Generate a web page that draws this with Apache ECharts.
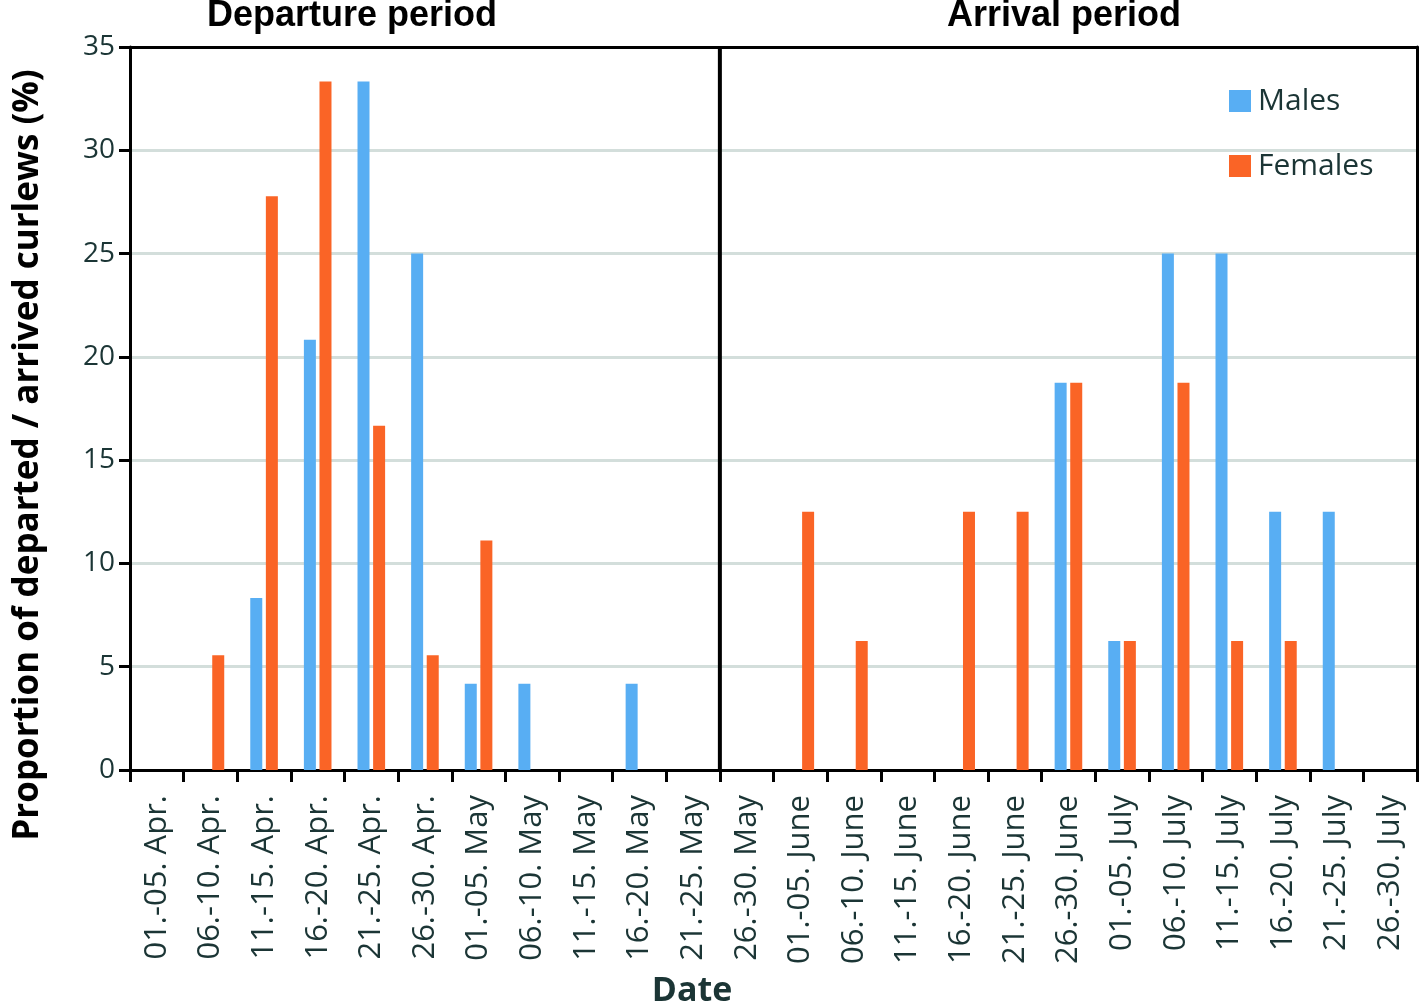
<!DOCTYPE html>
<html>
<head>
<meta charset="utf-8">
<script src="https://cdn.jsdelivr.net/npm/echarts@6/dist/echarts.min.js"></script>
<style>html,body{margin:0;padding:0;background:#fff}#c{width:1419px;height:1005px}</style>
</head>
<body>
<div id="c"></div>
<script>
var categories = ['01.-05. Apr.','06.-10. Apr.','11.-15. Apr.','16.-20. Apr.','21.-25. Apr.','26.-30. Apr.',
  '01.-05. May','06.-10. May','11.-15. May','16.-20. May','21.-25. May','26.-30. May',
  '01.-05. June','06.-10. June','11.-15. June','16.-20. June','21.-25. June','26.-30. June',
  '01.-05. July','06.-10. July','11.-15. July','16.-20. July','21.-25. July','26.-30. July'];
var males =   [0, 0, 8.33, 20.83, 33.33, 25, 4.17, 4.17, 0, 4.17, 0, 0, 0, 0, 0, 0, 0, 18.75, 6.25, 25, 25, 12.5, 12.5, 0];
var females = [0, 5.56, 27.78, 33.33, 16.67, 5.56, 11.11, 0, 0, 0, 0, 0, 12.5, 6.25, 0, 12.5, 12.5, 18.75, 6.25, 18.75, 6.25, 6.25, 0, 0];
var yTicks = [0, 5, 10, 15, 20, 25, 30, 35];
var separatorAt = 11; // boundary between departure and arrival period (in category units)
var periodTitles = ['Departure period', 'Arrival period'];
var yTitle = 'Proportion of departed / arrived curlews (%)';
var xTitle = 'Date';

var chart = echarts.init(document.getElementById('c'));
var tickCol = '#1b3535';
chart.setOption({
  animation: false,
  backgroundColor: '#fff',
  textStyle: { fontFamily: 'Open Sans' },
  title: [
    { text: periodTitles[0], left: 347, top: -7, textAlign: 'center',
      textStyle: { fontFamily: 'Liberation Sans', fontWeight: 'bold', fontSize: 36, color: '#000' } },
    { text: periodTitles[1], left: 1059, top: -7, textAlign: 'center',
      textStyle: { fontFamily: 'Liberation Sans', fontWeight: 'bold', fontSize: 36, color: '#000' } }
  ],
  graphic: [
    { type: 'text', x: 28, y: 455, rotation: Math.PI / 2,
      style: { text: yTitle, fontFamily: 'Open Sans', fontWeight: 'bold', fontSize: 35, fill: '#000',
        align: 'center', verticalAlign: 'middle' } },
    { type: 'text', x: 692, y: 991,
      style: { text: xTitle, fontFamily: 'Open Sans', fontWeight: 'bold', fontSize: 34, fill: '#1b3535',
        align: 'center', verticalAlign: 'middle' } }
  ],
  legend: {
    orient: 'vertical', left: 1224, top: 81, itemGap: 35, itemWidth: 22, itemHeight: 22,
    icon: 'rect',
    textStyle: { fontSize: 30, color: tickCol, fontFamily: 'Open Sans', padding: [0, 0, 0, 2] },
    data: ['Males', 'Females']
  },
  grid: { left: 130, right: 2, top: 47, bottom: 235, containLabel: false },
  xAxis: [
    {
      type: 'category', data: categories, position: 'bottom',
      axisLine: { lineStyle: { color: '#000', width: 3 } },
      axisTick: { show: true, length: 12, lineStyle: { color: '#000', width: 3 } },
      axisLabel: { rotate: 90, fontSize: 31, color: tickCol, margin: 25, interval: 0, fontFamily: 'Open Sans' }
    },
    {
      type: 'value', min: 0, max: 24, position: 'top',
      axisLine: { show: true, onZero: false, lineStyle: { color: '#000', width: 3 } },
      axisTick: { show: false }, axisLabel: { show: false }, splitLine: { show: false }
    }
  ],
  yAxis: [
    {
      type: 'value', min: yTicks[0], max: yTicks[yTicks.length - 1], interval: 5,
      axisLine: { show: true, lineStyle: { color: '#000', width: 3 } },
      axisTick: { show: true, length: 11, lineStyle: { color: '#000', width: 3 } },
      axisLabel: { fontSize: 28, color: tickCol, margin: 15, fontFamily: 'Open Sans' },
      splitLine: { show: true, lineStyle: { color: '#d3dedb', width: 3 } }
    },
    {
      type: 'value', min: yTicks[0], max: yTicks[yTicks.length - 1], position: 'right',
      axisLine: { show: true, lineStyle: { color: '#000', width: 3 } },
      axisTick: { show: false }, axisLabel: { show: false }, splitLine: { show: false }
    }
  ],
  series: [
    { name: 'Males', type: 'bar', data: males, barWidth: 12, barGap: '30%',
      itemStyle: { color: '#58aef3' } },
    { name: 'Females', type: 'bar', data: females, barWidth: 12, barGap: '30%',
      itemStyle: { color: '#fa6426' } },
    { name: 'sep', type: 'line', xAxisIndex: 1, yAxisIndex: 1, symbol: 'none',
      data: [[separatorAt, yTicks[0]], [separatorAt, yTicks[yTicks.length - 1]]],
      lineStyle: { color: '#000', width: 4 }, silent: true }
  ]
});
</script>
</body>
</html>
